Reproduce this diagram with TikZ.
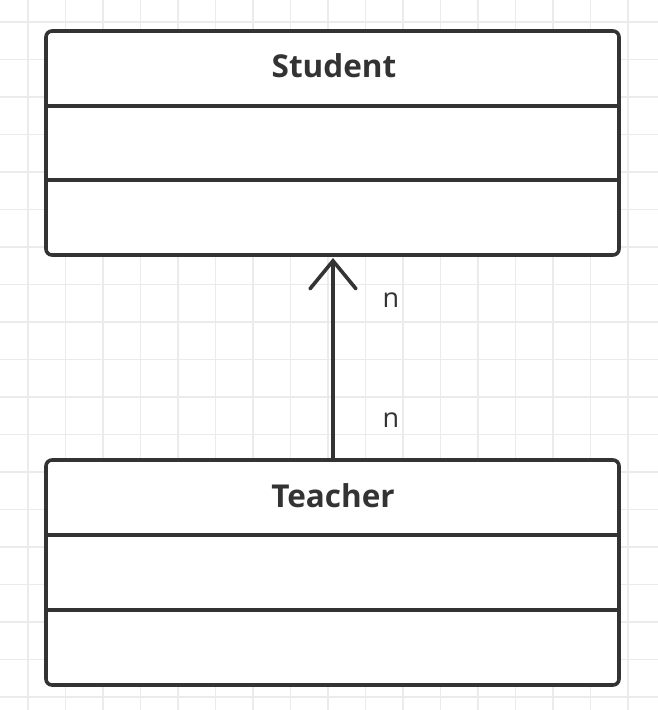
\documentclass[tikz,border=0pt]{standalone}
\usepackage{fontspec}
\setmainfont{Open Sans}
\usetikzlibrary{arrows.meta}
\definecolor{gridc}{HTML}{EBEBEB}
\definecolor{ink}{HTML}{333333}
\tikzset{
  gridline/.style={draw=gridc, line width=1.6pt},
  classbox/.style={draw=ink, fill=white, line width=3.6pt, rounded corners=6pt,
    minimum width=573pt, minimum height=224pt, inner sep=0pt},
  divider/.style={draw=ink, line width=3.6pt},
  titletext/.style={text=ink, font=\bfseries\fontsize{31.5}{31.5}\selectfont, anchor=base, inner sep=0pt},
  multtext/.style={text=ink, font=\fontsize{27}{27}\selectfont, anchor=base, inner sep=0pt},
  assoc/.style={draw=ink, line width=3.6pt, -{Straight Barb[length=28pt, width=46pt, line cap=round]}},
}
\begin{document}
\begin{tikzpicture}[x=1pt,y=-1pt]
\useasboundingbox (0,0) rectangle (658,710);
\fill[white] (0,0) rectangle (658,710);
\foreach \i in {0,...,17} {
  \draw[gridline] ({28+37.5*\i},0) -- ({28+37.5*\i},710);
}
\foreach \j in {0,...,18} {
  \draw[gridline] (0,{22+37.5*\j}) -- (658,{22+37.5*\j});
}
% Student class
\node[classbox] (student) at (332.5,143) {};
\draw[divider] (student.west |- 0,106) coordinate (s1) -- (student.east |- 0,106) coordinate (s1e);
\draw[divider] (student.west |- 0,180) coordinate (s2) -- (student.east |- 0,180) coordinate (s2e);
\node[titletext] (studentname) at (334,77) {Student};
% Teacher class
\node[classbox, minimum height=225pt] (teacher) at (332.5,572.5) {};
\draw[divider] (teacher.west |- 0,535) coordinate (t1) -- (teacher.east |- 0,535) coordinate (t1e);
\draw[divider] (teacher.west |- 0,610) coordinate (t2) -- (teacher.east |- 0,610) coordinate (t2e);
\node[titletext] (teachername) at (333,507) {Teacher};
% association
\coordinate (top) at (333,258);
\draw[assoc] (teacher.north -| top) -- (top);
\node[multtext] (n1) at (391,307) {n};
\node[multtext] (n2) at (391,427) {n};
\end{tikzpicture}
\end{document}
